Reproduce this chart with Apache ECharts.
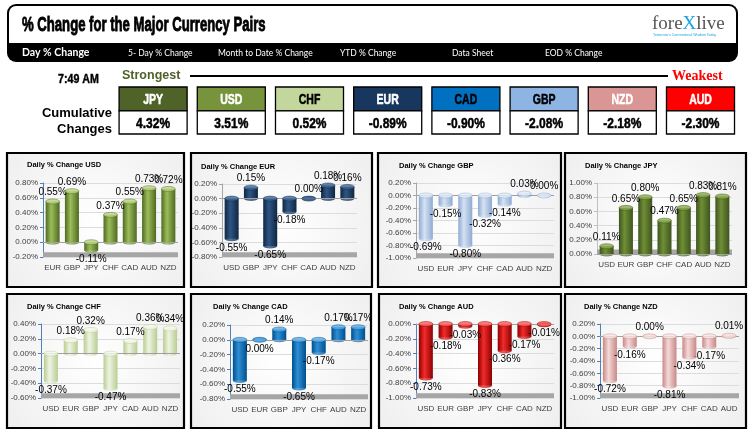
<!DOCTYPE html>
<html><head><meta charset="utf-8">
<script src="https://cdn.jsdelivr.net/npm/echarts@6.0.0/dist/echarts.min.js"></script>
<style>html,body{margin:0;padding:0;background:#fff}#c{width:752px;height:435px}</style>
</head><body><div id="c"></div><script>
// ---------- DATA ----------
const cumCurrencies = ['JPY','USD','CHF','EUR','CAD','GBP','NZD','AUD'];
const cumValues = [4.32, 3.51, 0.52, -0.89, -0.90, -2.08, -2.18, -2.30];

const panelCurrencies = ['USD','EUR','GBP','JPY','CHF','CAD','AUD','NZD'];
const catsUSD = ['EUR','GBP','JPY','CHF','CAD','AUD','NZD'];
const valsUSD = [0.55, 0.69, -0.11, 0.37, 0.55, 0.73, 0.72];
const catsEUR = ['USD','GBP','JPY','CHF','CAD','AUD','NZD'];
const valsEUR = [-0.55, 0.15, -0.65, -0.18, 0.00, 0.18, 0.16];
const catsGBP = ['USD','EUR','JPY','CHF','CAD','AUD','NZD'];
const valsGBP = [-0.69, -0.15, -0.80, -0.32, -0.14, 0.03, 0.00];
const catsJPY = ['USD','EUR','GBP','CHF','CAD','AUD','NZD'];
const valsJPY = [0.11, 0.65, 0.80, 0.47, 0.65, 0.83, 0.81];
const catsCHF = ['USD','EUR','GBP','JPY','CAD','AUD','NZD'];
const valsCHF = [-0.37, 0.18, 0.32, -0.47, 0.17, 0.36, 0.34];
const catsCAD = ['USD','EUR','GBP','JPY','CHF','AUD','NZD'];
const valsCAD = [-0.55, -0.00, 0.14, -0.65, -0.17, 0.17, 0.17];
const catsAUD = ['USD','EUR','GBP','JPY','CHF','CAD','NZD'];
const valsAUD = [-0.73, -0.18, -0.03, -0.83, -0.36, -0.17, -0.01];
const catsNZD = ['USD','EUR','GBP','JPY','CHF','CAD','AUD'];
const valsNZD = [-0.72, -0.16, 0.00, -0.81, -0.34, -0.17, 0.01];

const axisMins = [-0.2, -0.8, -1.0, 0.0, -0.6, -0.8, -1.0, -1.0];
const axisMaxs = [0.8, 0.2, 0.2, 1.0, 0.4, 0.2, 0.0, 0.2];
const axisStep = 0.2;

const panelCats = [catsUSD, catsEUR, catsGBP, catsJPY, catsCHF, catsCAD, catsAUD, catsNZD];
const panelVals = [valsUSD, valsEUR, valsGBP, valsJPY, valsCHF, valsCAD, valsAUD, valsNZD];

// ---------- STYLE / LAYOUT ----------
const boxColors = ['#4f6228','#77933c','#c3d69b','#17375e','#0070c0','#8eb4e3','#da9694','#ff0000'];
const boxTextColors = ['#fff','#fff','#000','#fff','#000','#000','#fff','#fff'];
const panelRects = [[7,153,177,134],[191,153,181,134],[378,153,183,134],[565,153,181,134],
  [7,294,177,134],[191,294,180,134],[379,294,182,134],[565,294,181,134]];
const gridRects = [[43,183,135,74],[222,184,135,73],[416,183,138,75],[597,183,135,71],
  [41,324,139,74],[230,325,138,74],[416,324,138,74],[600,324,139,74]];
const titlePos = [[27,165],[201,167],[399,166],[585,166],[27,307],[213,307],[399,307],[584,307]];
const axisColors = ['#4f81bd','#a6a6a6','#a6a6a6','#c0c0c0','#4f81bd','#4f81bd','#4f81bd','#4f81bd'];
const barStyles = [
  {dark:'#4e6a22', mid:'#9cbd5a', light:'#b9d37f'}, // USD
  {dark:'#0f2742', mid:'#2f5583', light:'#3d6596'}, // EUR
  {dark:'#8eaad3', mid:'#d5e2f2', light:'#e4ecf7'}, // GBP
  {dark:'#3f5420', mid:'#6f8f35', light:'#8aab4b'}, // JPY
  {dark:'#b9cc93', mid:'#eef4e1', light:'#f4f8eb'}, // CHF
  {dark:'#004f8c', mid:'#2e8fd6', light:'#57a9e6'}, // CAD
  {dark:'#8e0000', mid:'#f22b2b', light:'#ff5a5a'}, // AUD
  {dark:'#c98886', mid:'#f3d9d8', light:'#f8e6e5'}  // NZD
];
const sans = '"Liberation Sans",Arial,sans-serif';

function isNeg(v){ return v < 0 || (v === 0 && 1/v < 0); }
function grad(st){
  return {type:'linear', x:0, y:0, x2:1, y2:0, colorStops:[
    {offset:0, color:st.dark},{offset:0.4, color:st.mid},{offset:1, color:st.dark}]};
}
function pct(v){ return (Math.abs(v) < 1e-9 ? '0.00' : v.toFixed(2)) + '%'; }

const grids = [], xAxes = [], yAxes = [], series = [], graphics = [];

// header graphics
graphics.push({type:'rect', z:-20, shape:{x:7,y:4,width:731,height:58,r:9}, style:{fill:'#000'}});
graphics.push({type:'rect', z:-19, shape:{x:9,y:6,width:727,height:37,r:[7,7,0,0]}, style:{fill:'#fff'}});
graphics.push({type:'text', x:22, y:25, scaleX:0.625, style:{text:'% Change for the Major Currency Pairs', font:'bold 21px '+sans, fill:'#000', stroke:'#000', lineWidth:0.9, verticalAlign:'middle'}});
const navItems = [['Day % Change',22,'bold 10.5px Lato'],['5- Day % Change',128,'8.5px Lato'],['Month to Date % Change',218,'8.5px Lato'],
  ['YTD % Change',340,'8.5px Lato'],['Data Sheet',452,'8.5px Lato'],['EOD % Change',545,'8.5px Lato']];
navItems.forEach(n => graphics.push({type:'text', x:n[1], y:53, style:{text:n[0], font:n[2], fill:'#fff', verticalAlign:'middle'}}));
graphics.push({type:'text', x:652, y:24, style:{text:'{a|fore}{b|X}{a|live}', verticalAlign:'middle',
  rich:{a:{font:'19px "Liberation Serif",serif', fill:'#555'}, b:{font:'19px "Liberation Serif",serif', fill:'#1aa3e0'}}}});
graphics.push({type:'text', x:653, y:35, style:{text:"Tomorrow's Conventional Wisdom Today", font:'3.5px '+sans, fill:'#1aa3e0', verticalAlign:'middle'}});

graphics.push({type:'text', x:58, y:79, scaleX:0.82, style:{text:'7:49 AM', font:'bold 13px '+sans, fill:'#000', stroke:'#000', lineWidth:0.4, verticalAlign:'middle'}});
graphics.push({type:'text', x:122, y:76, style:{text:'Strongest', font:'bold 12.5px '+sans, fill:'#4f6228', verticalAlign:'middle'}});
graphics.push({type:'line', shape:{x1:190,y1:76,x2:668,y2:76}, style:{stroke:'#000', lineWidth:2}});
graphics.push({type:'text', x:672, y:76, style:{text:'Weakest', font:'bold 14px "Liberation Serif",serif', fill:'#ff0000', verticalAlign:'middle'}});
graphics.push({type:'text', x:112, y:113, style:{text:'Cumulative', font:'bold 13px '+sans, fill:'#000', align:'right', verticalAlign:'middle'}});
graphics.push({type:'text', x:112, y:129, style:{text:'Changes', font:'bold 13px '+sans, fill:'#000', align:'right', verticalAlign:'middle'}});

// panels
panelRects.forEach((r,i) => {
  graphics.push({type:'rect', z:-20, shape:{x:r[0],y:r[1],width:r[2],height:r[3]},
    style:{fill:{type:'radial', x:0.5, y:0.5, r:0.8, colorStops:[{offset:0,color:'#ffffff'},{offset:1,color:'#efefef'}]}, stroke:'#000', lineWidth:2.2}});
  graphics.push({type:'text', x:titlePos[i][0], y:titlePos[i][1], style:{text:'Daily % Change '+panelCurrencies[i], font:'bold 7.5px '+sans, fill:'#000', verticalAlign:'middle'}});
});

// bar charts
for (let i = 0; i < 8; i++) {
  const g = gridRects[i];
  grids.push({left:g[0], top:g[1], width:g[2], height:g[3], containLabel:false});
  xAxes.push({type:'category', gridIndex:i, data:panelCats[i], axisLine:{show:false}, axisTick:{show:false},
    axisLabel:{interval:0, fontSize:8, color:'#404040', margin:7, fontFamily:sans}});
  yAxes.push({type:'value', gridIndex:i, min:axisMins[i], max:axisMaxs[i], interval:axisStep,
    axisLine:{show:true, lineStyle:{color:axisColors[i], width:1}}, axisTick:{show:true, length:3, lineStyle:{color:axisColors[i]}},
    axisLabel:{fontSize:8, color:'#404040', margin:5, fontFamily:sans, formatter:v => pct(v)},
    splitLine:{lineStyle:{color:'#dcdcdc'}}});
  const st = barStyles[i];
  const vals = panelVals[i];
  const floorTop = axisMins[i] + (axisMaxs[i]-axisMins[i])*0.065;
  series.push({type:'bar', xAxisIndex:i, yAxisIndex:i, barWidth:14, silent:true,
    data: vals.map(v => ({value:v, label:{position: isNeg(v) ? 'bottom' : 'top'}})),
    itemStyle:{color:grad(st)},
    label:{show:true, distance:4, fontSize:10, color:'#000', fontFamily:sans, formatter:p => pct(p.value)},
    markArea:{silent:true, itemStyle:{color:'#a6a6a6'}, data:[[{yAxis:axisMins[i]},{yAxis:floorTop}]]},
    markLine:{silent:true, symbol:'none', label:{show:false}, lineStyle:{color:'#a0a0a0', type:'solid', width:1}, data:[{yAxis:0}]},
    z:3});
  series.push({type:'scatter', xAxisIndex:i, yAxisIndex:i, silent:true, symbol:'circle', symbolSize:[14,5],
    data: vals.map((v,k) => [k, Math.min(v,0)]), itemStyle:{color:grad(st)}, z:4});
  series.push({type:'scatter', xAxisIndex:i, yAxisIndex:i, silent:true, symbol:'circle', symbolSize:[14,5],
    data: vals.map((v,k) => [k, Math.max(v,0)]), itemStyle:{color:st.light, borderColor:st.dark, borderWidth:0.5}, z:5});
}

// cumulative boxes grid
grids.push({left:114, top:87, width:625.6, height:47});
xAxes.push({type:'category', gridIndex:8, data:cumCurrencies, show:false});
yAxes.push({type:'value', gridIndex:8, min:0, max:1, show:false});
series.push({type:'custom', xAxisIndex:8, yAxisIndex:8, silent:true,
  data: cumValues.map((v,i) => [i, v]),
  encode:{x:0},
  renderItem:(params, api) => {
    const i = api.value(0);
    const top = api.coord([i, 1]);
    const bot = api.coord([i, 0]);
    const w = api.size([1, 0])[0] * 0.87;
    const x0 = top[0] - w/2;
    const mid = top[1] + (bot[1]-top[1]) * 0.51;
    return {type:'group', children:[
      {type:'rect', shape:{x:x0, y:top[1], width:w, height:mid-top[1]}, style:{fill:boxColors[i], stroke:'#000', lineWidth:1.3}},
      {type:'rect', shape:{x:x0, y:mid, width:w, height:bot[1]-mid}, style:{fill:'#fff', stroke:'#000', lineWidth:1.3}},
      {type:'text', x:top[0], y:(top[1]+mid)/2+1, scaleX:0.7, style:{text:cumCurrencies[i], x:0, y:0, align:'center', verticalAlign:'middle', fill:boxTextColors[i], stroke:boxTextColors[i], lineWidth:0.5, font:'bold 15px '+sans}},
      {type:'text', x:top[0], y:(mid+bot[1])/2+1, scaleX:0.8, style:{text:pct(api.value(1)), x:0, y:0, align:'center', verticalAlign:'middle', fill:'#000', stroke:'#000', lineWidth:0.5, font:'bold 15px '+sans}}
    ]};
  }});

const chart = echarts.init(document.getElementById('c'));
chart.setOption({backgroundColor:'#fff', animation:false, grid:grids, xAxis:xAxes, yAxis:yAxes, series:series, graphic:graphics});
</script></body></html>
